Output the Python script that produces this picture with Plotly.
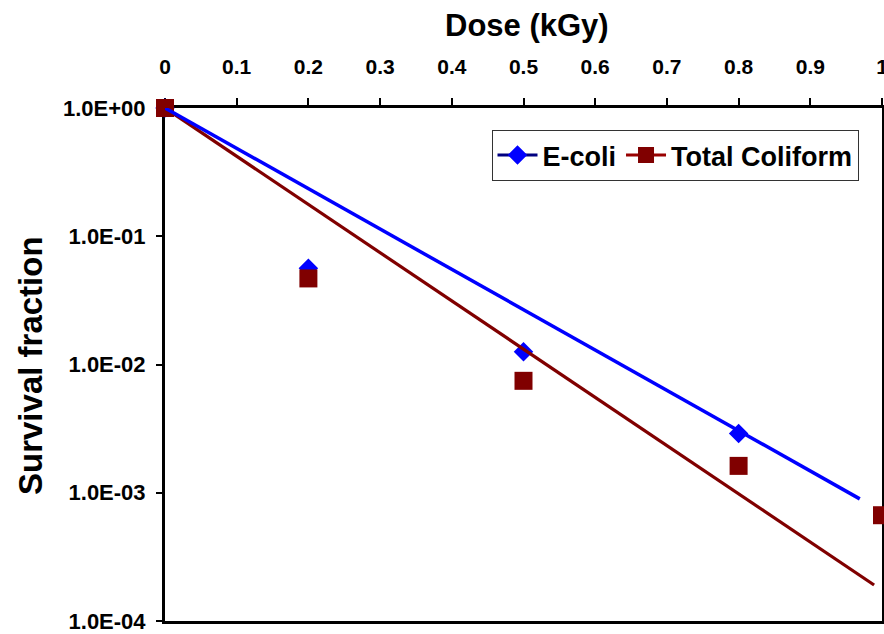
import plotly.graph_objects as go

# Measured survival fractions versus absorbed dose
dose_ecoli = [0.0, 0.2, 0.5, 0.8]
sf_ecoli = [1.0, 0.0562, 0.0126, 0.0029]

dose_coliform = [0.0, 0.2, 0.5, 0.8, 1.0]
sf_coliform = [1.0, 0.0469, 0.00746, 0.00162, 0.000668]

# Exponential trend lines (start / end of each fitted line)
fit_dose_ecoli = [0.0, 0.969]
fit_sf_ecoli = [1.0, 0.000896]
fit_dose_coliform = [0.0, 0.989]
fit_sf_coliform = [1.0, 0.000191]

# Axis tick labels
x_tickvals = [0, 0.1, 0.2, 0.3, 0.4, 0.5, 0.6, 0.7, 0.8, 0.9, 1]
x_ticktext = ["0", "0.1", "0.2", "0.3", "0.4", "0.5", "0.6", "0.7", "0.8", "0.9", "1"]
y_tickvals = [1e0, 1e-1, 1e-2, 1e-3, 1e-4]
y_ticktext = ["1.0E+00", "1.0E-01", "1.0E-02", "1.0E-03", "1.0E-04"]

FONT = "Liberation Sans, Arial, sans-serif"
BLUE = "#0000FF"
NAVY = "#000080"
MAROON = "#800000"

fig = go.Figure()

# data points
fig.add_trace(go.Scatter(
    x=dose_ecoli, y=sf_ecoli, mode="markers", showlegend=False, cliponaxis=False,
    marker=dict(symbol="diamond", size=15, color=BLUE, line=dict(width=0)),
))
fig.add_trace(go.Scatter(
    x=dose_coliform, y=sf_coliform, mode="markers", showlegend=False, cliponaxis=False,
    marker=dict(symbol="square", size=18, color=MAROON, line=dict(width=0)),
))

# trend lines
fig.add_trace(go.Scatter(
    x=fit_dose_coliform, y=fit_sf_coliform, mode="lines", showlegend=False,
    line=dict(color=MAROON, width=3.2),
))
fig.add_trace(go.Scatter(
    x=fit_dose_ecoli, y=fit_sf_ecoli, mode="lines", showlegend=False,
    line=dict(color=BLUE, width=3.5),
))

# legend entries
fig.add_trace(go.Scatter(
    x=[None], y=[None], mode="lines+markers", name="E-coli",
    line=dict(color=NAVY, width=3),
    marker=dict(symbol="diamond", size=15, color=BLUE, line=dict(width=0)),
))
fig.add_trace(go.Scatter(
    x=[None], y=[None], mode="lines+markers", name="Total Coliform",
    line=dict(color="#990000", width=3),
    marker=dict(symbol="square", size=18, color=MAROON, line=dict(width=0)),
))

L, R, T, B = 165, 2, 108, 13
W, H = 884, 634
pw, ph = W - L - R, H - T - B


def px_x(p):
    return (p - L) / pw


def px_y(p):
    return (H - B - p) / ph


fig.update_layout(
    template="none",
    width=W, height=H,
    margin=dict(l=L, r=R, t=T, b=B, pad=0),
    paper_bgcolor="white", plot_bgcolor="white",
    font=dict(family=FONT, color="black"),
    showlegend=True,
    legend=dict(
        orientation="h",
        x=px_x(675), y=px_y(130), xanchor="center", yanchor="top",
        bgcolor="white", bordercolor="#333333", borderwidth=1,
        font=dict(family=FONT, size=27, color="black", weight="bold"),
        itemwidth=40,
    ),
    xaxis=dict(
        side="top", range=[0, 1], automargin=False,
        tickmode="array", tickvals=x_tickvals, ticktext=x_ticktext,
        tickfont=dict(family=FONT, size=21, color="black", weight="bold"),
        ticks="outside", ticklen=7, tickwidth=1.5, tickcolor="black",
        ticklabelstandoff=16, ticklabeloverflow="allow",
        showline=True, linecolor="black", linewidth=3, mirror=True,
        showgrid=False, zeroline=False, layer="below traces",
    ),
    yaxis=dict(
        type="log", range=[-4, 0], automargin=False,
        tickmode="array", tickvals=y_tickvals, ticktext=y_ticktext,
        tickfont=dict(family=FONT, size=22, color="black", weight="bold"),
        ticks="outside", ticklen=6, tickwidth=1.5, tickcolor="black",
        ticklabelstandoff=6, ticklabeloverflow="allow",
        showline=True, linecolor="black", linewidth=3, mirror=True,
        showgrid=False, zeroline=False, layer="below traces",
    ),
    annotations=[
        dict(text="Dose (kGy)", xref="paper", yref="paper",
             x=px_x(527), y=px_y(26), xanchor="center", yanchor="middle",
             showarrow=False,
             font=dict(family=FONT, size=31, color="black", weight="bold")),
        dict(text="Survival fraction", xref="paper", yref="paper",
             x=px_x(30), y=px_y(366), xanchor="center", yanchor="middle",
             textangle=-90, showarrow=False,
             font=dict(family=FONT, size=33, color="black", weight="bold")),
    ],
)

fig.write_html("out.html")
